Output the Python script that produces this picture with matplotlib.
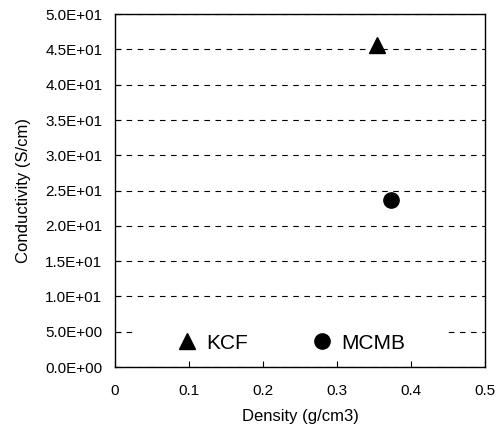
import numpy as np
import matplotlib
matplotlib.use('Agg')
import matplotlib.pyplot as plt
from matplotlib.patches import Rectangle
from matplotlib.ticker import FuncFormatter

plt.rcParams['font.family'] = ['Liberation Sans', 'DejaVu Sans']

# data
kcf_density = [0.354]
kcf_conductivity = [45.6]
mcmb_density = [0.373]
mcmb_conductivity = [23.7]

x_ticks = [0, 0.1, 0.2, 0.3, 0.4, 0.5]
y_ticks = np.arange(0, 55, 5)


def sci_fmt(v, pos):
    if v == 0:
        return '0.0E+00'
    exp = int(np.floor(np.log10(abs(v))))
    return '%.1fE%+03d' % (v / 10**exp, exp)


fig = plt.figure(figsize=(5.01, 4.3), dpi=100)
ax = fig.add_axes([0.2295, 0.1465, 0.7385, 0.8205])

ax.plot(kcf_density, kcf_conductivity, linestyle='none', marker='^',
        color='black', markersize=11, label='KCF', zorder=3)
ax.plot(mcmb_density, mcmb_conductivity, linestyle='none', marker='o',
        color='black', markersize=11, label='MCMB', zorder=3)

ax.set_xlim(0, 0.5)
ax.set_ylim(0, 50)
ax.set_xticks(x_ticks)
ax.set_xticklabels(['0', '0.1', '0.2', '0.3', '0.4', '0.5'])
ax.set_yticks(y_ticks)
ax.yaxis.set_major_formatter(FuncFormatter(sci_fmt))
ax.tick_params(axis='both', direction='in', length=4, labelsize=11)
ax.tick_params(axis='x', pad=12)
ax.tick_params(axis='y', pad=9)
ax.yaxis.grid(True, linestyle=(0, (5, 5)), color='black', linewidth=0.8)
ax.set_axisbelow(True)
for s in ax.spines.values():
    s.set_linewidth(1.0)

ax.set_xlabel('Density (g/cm3)', fontsize=12, labelpad=8)
ax.set_ylabel('Conductivity (S/cm)', fontsize=12, labelpad=10)

# white box behind the legend hides part of the lowest grid line
ax.add_patch(Rectangle((0.054, 0.04), 0.84, 0.09, transform=ax.transAxes,
                       facecolor='white', edgecolor='none', zorder=1.5))

leg = ax.legend(loc='center', ncol=2, fontsize=15, frameon=False,
                handletextpad=0.1, columnspacing=2.77, borderpad=0.6,
                handlelength=1.6, bbox_to_anchor=(0.467, 0.068))

fig.savefig('out.png', dpi=100)
